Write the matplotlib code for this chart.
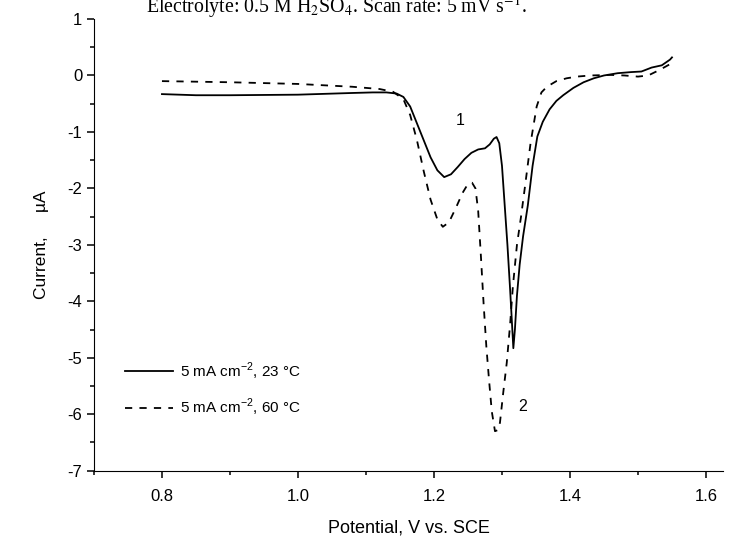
import matplotlib
matplotlib.use("Agg")
import matplotlib.pyplot as plt
from matplotlib.ticker import MultipleLocator

plt.rcParams['font.family'] = ['Liberation Sans', 'DejaVu Sans']
plt.rcParams['mathtext.fontset'] = 'custom'
plt.rcParams['mathtext.rm'] = 'Liberation Sans'

# 5 mA cm-2, 23 C (solid)
v_23 = [0.80, 0.85, 0.90, 1.00, 1.08, 1.11, 1.13, 1.145, 1.155, 1.165, 1.175, 1.185,
        1.195, 1.205, 1.215, 1.225, 1.235, 1.245, 1.255, 1.265, 1.275, 1.282, 1.288,
        1.292, 1.296, 1.300, 1.304, 1.308, 1.312, 1.3167, 1.319, 1.322, 1.326, 1.331,
        1.338, 1.345, 1.352, 1.36, 1.37, 1.38, 1.39, 1.405, 1.42, 1.435, 1.45, 1.47,
        1.49, 1.505, 1.52, 1.535, 1.547, 1.55]
i_23 = [-0.33, -0.35, -0.35, -0.34, -0.31, -0.30, -0.30, -0.32, -0.38, -0.55, -0.85, -1.15,
        -1.45, -1.68, -1.80, -1.75, -1.62, -1.48, -1.37, -1.31, -1.29, -1.22, -1.12,
        -1.09, -1.2, -1.6, -2.3, -3.0, -3.8, -4.83, -4.5, -3.9, -3.35, -2.85,
        -2.3, -1.6, -1.08, -0.82, -0.6, -0.45, -0.35, -0.22, -0.12, -0.05, 0.0, 0.04,
        0.06, 0.07, 0.14, 0.18, 0.28, 0.32]

# 5 mA cm-2, 60 C (dashed)
v_60 = [0.80, 0.90, 1.00, 1.08, 1.12, 1.14, 1.155, 1.165, 1.175, 1.185, 1.195, 1.205,
        1.213, 1.222, 1.232, 1.242, 1.25, 1.256, 1.261, 1.265, 1.269, 1.273, 1.277,
        1.281, 1.285, 1.2897, 1.294, 1.297, 1.302, 1.307, 1.312, 1.316, 1.322, 1.328,
        1.334, 1.342, 1.351, 1.358, 1.366, 1.38, 1.395, 1.41, 1.43, 1.46, 1.48, 1.50,
        1.515, 1.532, 1.547, 1.55]
i_60 = [-0.10, -0.12, -0.15, -0.2, -0.24, -0.29, -0.42, -0.7, -1.15, -1.7, -2.2, -2.55,
        -2.68, -2.6, -2.35, -2.08, -1.92, -1.9, -2.0, -2.4, -3.2, -4.05, -4.8,
        -5.4, -5.95, -6.30, -6.28, -6.15, -5.6, -5.09, -4.4, -3.74, -3.0, -2.5,
        -1.95, -1.2, -0.55, -0.3, -0.2, -0.1, -0.05, -0.02, 0.0, 0.01, 0.0, -0.02,
        0.0, 0.1, 0.2, 0.24]

labels = ["5 mA cm$^{-2}$, 23 °C", "5 mA cm$^{-2}$, 60 °C"]

fig = plt.figure(figsize=(7.37, 5.51), dpi=100)
ax = fig.add_axes([0.1275, 0.1457, 0.8535, 0.8198])

ax.plot(v_23, i_23, color="black", lw=1.3, label=labels[0])
ax.plot(v_60, i_60, color="black", lw=1.3, ls=(0, (4, 4)), label=labels[1])

ax.set_xlim(0.7, 1.625)
ax.set_ylim(-7, 1)
ax.xaxis.set_major_locator(MultipleLocator(0.2))
ax.xaxis.set_minor_locator(MultipleLocator(0.1))
ax.yaxis.set_major_locator(MultipleLocator(1))
ax.yaxis.set_minor_locator(MultipleLocator(0.5))
ax.xaxis.set_major_formatter(plt.FuncFormatter(lambda x, p: "%.1f" % x))
ax.yaxis.set_major_formatter(plt.FuncFormatter(lambda y, p: "%d" % round(y)))

ax.spines["top"].set_visible(False)
ax.spines["right"].set_visible(False)
ax.tick_params(which="major", direction="out", length=5, width=1.1, labelsize=12)
ax.tick_params(which="minor", direction="out", length=3, width=1.1)
ax.tick_params(axis="x", pad=8)

ax.set_xlabel("Potential, V vs. SCE", fontsize=13, labelpad=11)
ax.set_ylabel("Current,     µA", fontsize=12.5, labelpad=13)

ax.text(1.238, -0.79, "1", fontsize=11.5, ha="center", va="center")
ax.text(1.331, -5.86, "2", fontsize=11.5, ha="center", va="center")

ax.legend(frameon=False, loc="center left", bbox_to_anchor=(0.05, 0.18),
          borderpad=0, borderaxespad=0, handlelength=3.1, handletextpad=0.45,
          labelspacing=1.0, fontsize=11)

fig.text(0.457, 0.978, "Electrolyte: 0.5 M H$_2$SO$_4$. Scan rate: 5 mV s$^{-1}$.",
         family="Liberation Serif", fontsize=14.3, ha="center", va="baseline",
         math_fontfamily="stix")

fig.savefig("out.png", dpi=100)
